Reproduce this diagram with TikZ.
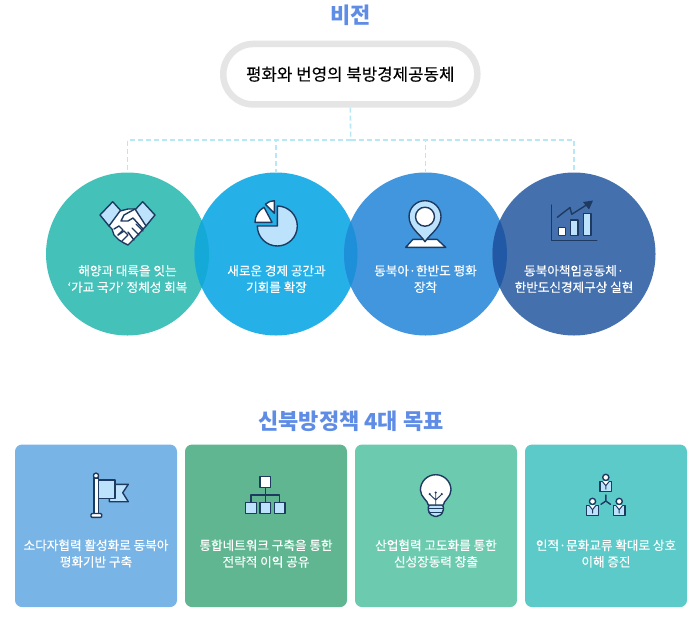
\documentclass[tikz,border=0pt]{standalone}
\usepackage{fontspec}
\setmainfont{Noto Sans CJK KR}
\newfontfamily\medfont[FakeBold=0.25]{Noto Sans CJK KR}
\usetikzlibrary{calc}
\definecolor{navy}{HTML}{1F3A60}
\definecolor{lite}{HTML}{BDE3FC}
\definecolor{titleblue}{HTML}{5F8DE6}
\definecolor{dashc}{HTML}{B8E8F5}
\definecolor{cA}{HTML}{44C1B9}
\definecolor{cB}{HTML}{25B1E8}
\definecolor{cC}{HTML}{4296DE}
\definecolor{cD}{HTML}{4470AD}
\definecolor{oAB}{HTML}{14A9D6}
\definecolor{oBC}{HTML}{1E90DA}
\definecolor{oCD}{HTML}{2159A6}
\definecolor{kA}{HTML}{78B4E6}
\definecolor{kB}{HTML}{5FB690}
\definecolor{kC}{HTML}{6CCBAE}
\definecolor{kD}{HTML}{5BCAC8}
\tikzset{
  ball/.style={circle,draw=none,minimum size=163pt,inner sep=0pt,outer sep=0pt},
  card/.style={rectangle,rounded corners=7pt,draw=none,minimum width=162pt,minimum height=162.5pt,inner sep=0pt,outer sep=0pt},
  lbl/.style={text=white,font=\medfont\fontsize{12.6}{16.5}\selectfont,align=center,inner sep=0pt},
  ttl/.style={text=titleblue,inner sep=0pt},
  link/.style={draw=dashc,line width=1.6pt,dash pattern=on 5pt off 3pt},
  ic/.style={draw=navy,line width=1.4pt,line join=round,line cap=round},
  icl/.style={ic,fill=lite},
  icw/.style={ic,fill=white}
}
\begin{document}
\begin{tikzpicture}[x=1pt,y=-1pt]
\useasboundingbox (0,0) rectangle (700,616);
\fill[white] (0,0) rectangle (700,616);
% titles
\node[ttl,font=\fontsize{22}{24}\selectfont\bfseries] (vt) at (350.7,15) {비전};
\node[ttl,font=\fontsize{22}{24}\selectfont\bfseries] (gt) at (351,421) {신북방정책 4대 목표};
% pill
\node[draw=black!10,line width=6.5pt,fill=white,rectangle,rounded corners=30pt,minimum width=254pt,minimum height=60.5pt,inner sep=0pt,outer sep=3.25pt,font=\medfont\fontsize{16.8}{18}\selectfont,text=black] (pill) at (350.3,74.2) {평화와 번영의 북방경제공동체};
% circles
\node[ball,fill=cA] (c1) at (127.5,254) {};
\node[ball,fill=cB] (c2) at (276,254) {};
\node[ball,fill=cC] (c3) at (425.5,254) {};
\node[ball,fill=cD] (c4) at (574,254) {};
\begin{scope}\clip (127.5,254) circle (81.5pt); \fill[oAB] (276,254) circle (81.5pt);\end{scope}
\begin{scope}\clip (276,254) circle (81.5pt); \fill[oBC] (425.5,254) circle (81.5pt);\end{scope}
\begin{scope}\clip (425.5,254) circle (81.5pt); \fill[oCD] (574,254) circle (81.5pt);\end{scope}
% connectors
\coordinate (hub) at (350.7,140);
\draw[link] (pill.south) -- (hub);
\draw[link] (hub) -| (c1.north);
\draw[link] (hub) -| (c2.north);
\draw[link] (hub) -| (c3.north);
\draw[link] (hub) -| (c4.north);
% circle labels
\node[lbl] (t1) at (127.5,279) {해양과 대륙을 잇는\\‘가교 국가’ 정체성 회복};
\node[lbl] (t2) at (276.5,279) {새로운 경제 공간과\\기회를 확장};
\node[lbl] (t3) at (425.5,279) {동북아·한반도 평화\\장착};
\node[lbl] (t4) at (574,279) {동북아책임공동체·\\한반도신경제구상 실현};
% handshake
\draw[icl] (100,215) -- (112.7,201.7) -- (122,212) -- (109,226) -- cycle;
\draw[icl] (155,215) -- (142.7,201.7) -- (133,212) -- (146,226) -- cycle;
\draw[icw] (109,226) -- (120,211) -- (128,209) -- (135,209) -- (146,226) -- (136,237) -- (128,245) -- (124,243) -- (119,240) -- (114,235) -- (112,229) -- cycle;
\draw[ic] (135,209) -- (124,215) -- (121,221) -- (128,221) -- (133,218) -- (143,229);
\draw[ic] (114,229) -- (119,226) -- (123,230) -- (118,235);
\draw[ic] (118,235) -- (124,231) -- (128,235) -- (122,241);
\draw[ic] (136,224) -- (143,231) (132,228) -- (139,235) (128,232) -- (134,240);
% pie
\draw[icl] (277.3,206) arc (90:-180:20pt) -- (277.3,226) -- cycle;
\draw[icw] (272,222.3) -- (255,222.3) arc (180:118:17pt) -- cycle;
\draw[icw] (274.3,213.3) -- (274.3,200.7) arc (90:133:13pt) -- cycle;
% pin
\draw[icw] (405.7,247.3) -- (413,239.3) -- (437,239.3) -- (445.7,247.3) -- cycle;
\draw[icl] (425,241.7) .. controls (421,235) and (409,228) .. (409,216.7) arc (180:0:16pt) .. controls (441,228) and (429,235) .. (425,241.7) -- cycle;
\draw[icw] (425,216.7) circle (9.5pt);
% chart
\draw[ic] (551.3,205) -- (551.3,240.7) -- (596.7,240.7);
\draw[icw] (558.3,227.3) rectangle (565.7,235.7);
\draw[icl] (570.7,220) rectangle (578,235.7);
\draw[icl] (583.7,213.3) rectangle (591,235.7);
\draw[ic] (557.3,217.3) -- (570,207.5) -- (571.7,214.3) -- (588,204);
\fill[navy] (593,200.5) -- (583,202) -- (589,209.5) -- cycle;
% cards
\node[card,fill=kA] (k1) at (96,525.8) {};
\node[card,fill=kB] (k2) at (266,525.8) {};
\node[card,fill=kC] (k3) at (436,525.8) {};
\node[card,fill=kD] (k4) at (606,525.8) {};
\node[lbl] (d1) at (96,553.5) {소다자협력 활성화로 동북아\\평화기반 구축};
\node[lbl] (d2) at (266,553.5) {통합네트워크 구축을 통한\\전략적 이익 공유};
\node[lbl] (d3) at (436,553.5) {산업협력 고도화를 통한\\신성장동력 창출};
\node[lbl] (d4) at (606,553.5) {인적·문화교류 확대로 상호\\이해 증진};
% flag
\draw[icl] (115,484.3) -- (128.3,484.3) -- (122.7,492.7) -- (128.3,501.7) -- (109.3,501.7) -- (109.3,498.3);
\draw[icl] (98.3,480) rectangle (115,498.3);
\draw[icw] (94,478) rectangle (98.3,513.5);
\draw[icw] (96,475.7) circle (2.6pt);
\draw[icw,rounded corners=1pt] (91,513.5) rectangle (101.7,517.3);
% org chart
\draw[ic] (265.3,487.3) -- (265.3,502.7) (251,502.7) -- (251,495) -- (279.7,495) -- (279.7,502.7);
\draw[icw] (260,476.7) rectangle (270.7,487.3);
\draw[icl] (245.7,502.7) rectangle (256.3,513.3);
\draw[icl] (260,502.7) rectangle (270.7,513.3);
\draw[icl] (274.3,502.7) rectangle (285,513.3);
% bulb
\draw[icl,rounded corners=2pt] (428.3,505) -- (443.3,505) -- (443.3,512) -- (439,516.3) -- (432.6,516.3) -- (428.3,512) -- cycle;
\draw[ic,line width=.8pt] (428.8,508.5) -- (442.8,508.5) (428.8,512) -- (442.8,512);
\draw[icw] (428.3,505) .. controls (428.3,501) and (420.4,497) .. (420.4,490) arc (180:0:15.3pt) .. controls (451,497) and (443.3,501) .. (443.3,505) -- cycle;
\draw[ic,line width=.9pt] (435.7,505) -- (435.7,493) (435.7,500) -- (430,494.5) (435.7,500) -- (441.5,494.5);
\fill[navy] (435.7,492.5) circle (1.2pt) (429.7,494) circle (1.2pt) (441.8,494) circle (1.2pt);
% people
\foreach \px/\py in {605.8/481.7, 592.5/505.7, 619.2/505.7}{
  \begin{scope}[shift={(\px,\py)}]
    \draw[icl] (-5.8,0) rectangle (5.8,10);
    \fill[white] (-3.2,-.5) -- (3.2,-.5) -- (0,4) -- cycle;
    \draw[ic,line width=1pt] (-3.2,0) -- (0,4) -- (3.2,0) (0,4) -- (0,7.5);
    \draw[icw] (0,-4.3) circle (3.1pt);
  \end{scope}
}
\draw[ic] (605.8,495) -- (605.8,501) -- (601,504.3) (605.8,501) -- (610.5,504.3);
\end{tikzpicture}
\end{document}
